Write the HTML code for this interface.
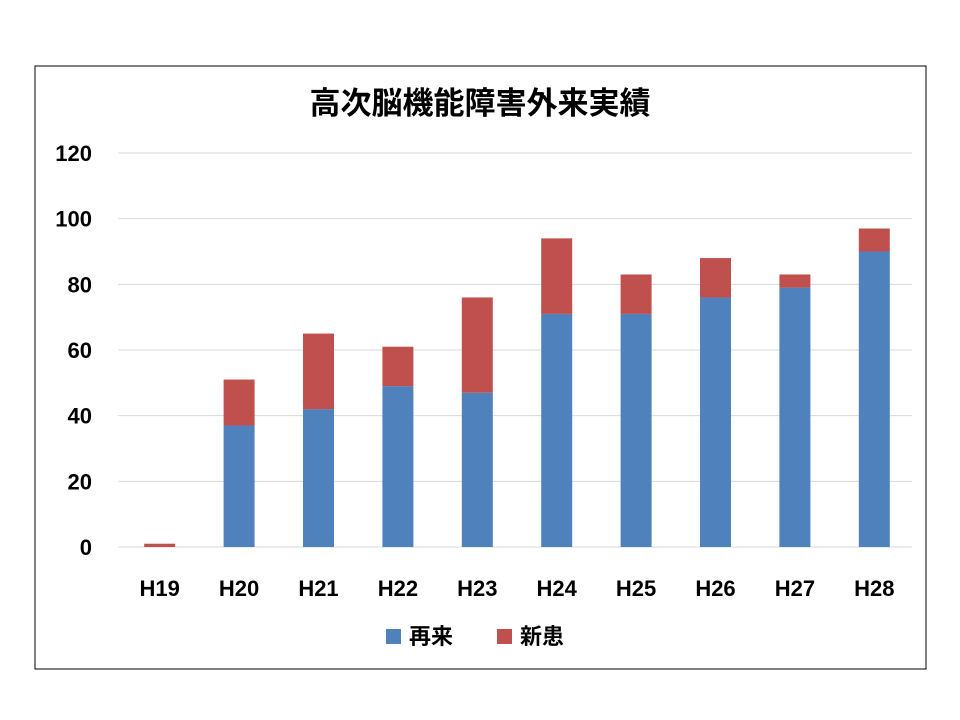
<!DOCTYPE html>
<html><head><meta charset="utf-8"><style>
html,body{margin:0;padding:0;background:#fff;}
svg{display:block;}
text{font-family:"Liberation Sans","Noto Sans CJK JP",sans-serif;font-weight:bold;fill:#000;}
</style></head><body>
<svg id="chart" width="960" height="720">
<rect x="35" y="66" width="891" height="603" fill="#fff" stroke="#000" stroke-width="1"/>
<text x="480" y="114" text-anchor="middle" font-size="31">高次脳機能障害外来実績</text>
<g id="grid"></g><g id="bars"></g><g id="labels"></g>
<g>
<rect x="386" y="629" width="15" height="15" fill="#4f81bd"/>
<text x="409" y="644" font-size="22">再来</text>
<rect x="497" y="629" width="15" height="15" fill="#c0504d"/>
<text x="520" y="644" font-size="22">新患</text>
</g>
</svg>
<script>
const categories=["H19","H20","H21","H22","H23","H24","H25","H26","H27","H28"];
const revisit=[0,37,42,49,47,71,71,76,79,90];
const newPatients=[1,14,23,12,29,23,12,12,4,7];
const yTicks=[0,20,40,60,80,100,120];
const ns="http://www.w3.org/2000/svg";
const x0=118,x1=912,yBase=547,yTop=153,yMax=120;
const y=v=>yBase-(v/yMax)*(yBase-yTop);
const step=(x1-x0)/categories.length;
const xc=i=>x0+step*(i+0.5)+2;
const bw=31;
const grid=document.getElementById('grid'),bars=document.getElementById('bars'),labels=document.getElementById('labels');
function mk(tag,attrs,parent){const e=document.createElementNS(ns,tag);for(const k in attrs)e.setAttribute(k,attrs[k]);parent.appendChild(e);return e;}
yTicks.forEach(t=>{
 const l=mk('line',{x1:x0,x2:x1,y1:y(t),y2:y(t),stroke:t===0?'#d9d9d9':'#d9d9d9','stroke-width':1},grid);
 
 
 const tx=mk('text',{x:92,y:y(t)+8,'text-anchor':'end','font-size':22},labels);
 tx.textContent=t;
 
 
});
categories.forEach((c,i)=>{
 const cx=xc(i);
 const r1=mk('rect',{x:cx-bw/2,y:y(revisit[i]),width:bw,height:yBase-y(revisit[i]),fill:'#4f81bd'},bars);
 
 
 const top=revisit[i]+newPatients[i];
 const r2=mk('rect',{x:cx-bw/2,y:y(top),width:bw,height:y(revisit[i])-y(top),fill:'#c0504d'},bars);
 
 
 const tx=mk('text',{x:cx,y:596,'text-anchor':'middle','font-size':22},labels);
 tx.textContent=c;
 
 
});
</script>
</body></html>
